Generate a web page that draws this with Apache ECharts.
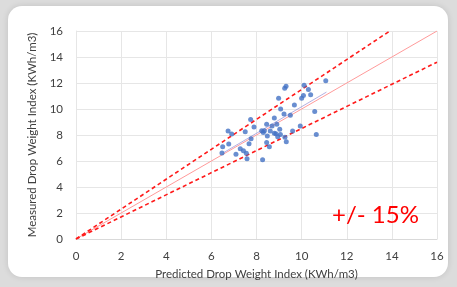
<!DOCTYPE html>
<html>
<head>
<meta charset="utf-8">
<script src="https://cdn.jsdelivr.net/npm/echarts@6/dist/echarts.min.js"></script>
<style>
  html, body { margin: 0; padding: 0; width: 457px; height: 287px; overflow: hidden; background: #dcdcdc; }
  #card { position: absolute; left: 8px; top: 6px; width: 440px; height: 271px; background: #fff; border-radius: 14px; box-shadow: 0 0 6px rgba(0,0,0,0.12); }
  #chart { position: absolute; left: 0; top: 0; width: 457px; height: 287px; }
</style>
</head>
<body>
<div id="card"></div>
<div id="chart"></div>
<script>
// measured vs predicted points
const predicted = [9.25, 9.31, 10.11, 11.07, 10.3, 10.08, 10.0, 10.4, 8.98, 9.68, 9.07, 9.22, 9.5, 10.58, 8.79,
  7.74, 7.89, 8.45, 8.69, 8.9, 9.03, 8.61, 8.23, 8.3, 8.35, 8.79, 9.06, 8.48, 9.6, 9.94, 10.65,
  6.74, 6.9, 7.5, 6.77, 6.5, 6.47, 7.76, 7.67, 7.28, 7.42, 7.55, 7.09, 7.58, 8.27, 8.45, 8.57,
  9.26, 9.32, 8.94, 8.86];
const measured = [11.6, 11.75, 11.82, 12.18, 11.5, 11.03, 10.82, 11.1, 10.82, 10.3, 10.0, 9.62, 9.51, 9.8, 9.3,
  9.2, 8.62, 8.82, 8.69, 8.82, 8.44, 8.31, 8.33, 8.2, 8.33, 8.13, 8.03, 7.92, 8.31, 8.69, 8.03,
  8.31, 8.08, 8.25, 7.31, 7.1, 6.62, 7.72, 7.33, 6.95, 6.79, 6.59, 6.51, 6.18, 6.1, 7.42, 7.1,
  7.82, 7.49, 7.87, 8.1];
const axisTicks = [0, 2, 4, 6, 8, 10, 12, 14, 16];
const parityLine = [[0, 0], [16, 16]];
const upperBand = [[0, 0], [13.91, 16]];
const lowerBand = [[0, 0], [16, 13.6]];
const trendLine = [[6.5, 6.6], [11.1, 11.3]];

const labelFont = 'Lato, "Open Sans", sans-serif';

var myChart = echarts.init(document.getElementById('chart'));
myChart.setOption({
  animation: false,
  backgroundColor: 'transparent',
  grid: { left: 76, right: 20, top: 31, bottom: 48 },
  xAxis: {
    type: 'value',
    min: axisTicks[0],
    max: axisTicks[axisTicks.length - 1],
    interval: 2,
    name: 'Predicted Drop Weight Index (KWh/m3)',
    nameLocation: 'middle',
    nameGap: 29,
    nameTextStyle: { color: '#404040', fontSize: 11.5, fontFamily: labelFont, verticalAlign: 'top' },
    axisLine: { show: true, lineStyle: { color: '#d9d9d9' } },
    axisTick: { show: false },
    axisLabel: { color: '#404040', fontSize: 11.5, fontFamily: labelFont, margin: 11 },
    splitLine: { show: true, lineStyle: { color: '#e6e6e6' } }
  },
  yAxis: {
    type: 'value',
    min: axisTicks[0],
    max: axisTicks[axisTicks.length - 1],
    interval: 2,
    name: 'Measured Drop Weight Index (KWh/m3)',
    nameLocation: 'middle',
    nameGap: 33,
    nameTextStyle: { color: '#404040', fontSize: 11.5, fontFamily: labelFont },
    axisLine: { show: true, lineStyle: { color: '#e6e6e6' } },
    axisTick: { show: false },
    axisLabel: { color: '#404040', fontSize: 11.5, fontFamily: labelFont, margin: 13 },
    splitLine: { show: true, lineStyle: { color: '#e6e6e6' } }
  },
  graphic: [
    {
      type: 'text',
      left: 332,
      top: 203,
      z: 100,
      style: { text: '+/- 15%', fill: '#ff0000', fontSize: 24, fontFamily: labelFont }
    }
  ],
  series: [
    {
      type: 'line',
      data: parityLine,
      symbol: 'none',
      lineStyle: { color: '#ff9a9a', width: 1 },
      z: 2
    },
    {
      type: 'line',
      data: trendLine,
      symbol: 'none',
      lineStyle: { color: 'rgba(120,110,200,0.55)', width: 1 },
      z: 3
    },
    {
      type: 'line',
      data: upperBand,
      symbol: 'none',
      lineStyle: { color: '#ff1a1a', width: 1.6, type: [4, 3] },
      z: 2
    },
    {
      type: 'line',
      data: lowerBand,
      symbol: 'none',
      lineStyle: { color: '#ff1a1a', width: 1.6, type: [4, 3] },
      z: 2
    },
    {
      type: 'scatter',
      data: predicted.map((x, i) => [x, measured[i]]),
      symbolSize: 5,
      itemStyle: { color: '#4472c4' },
      z: 4
    }
  ]
});
</script>
</body>
</html>
